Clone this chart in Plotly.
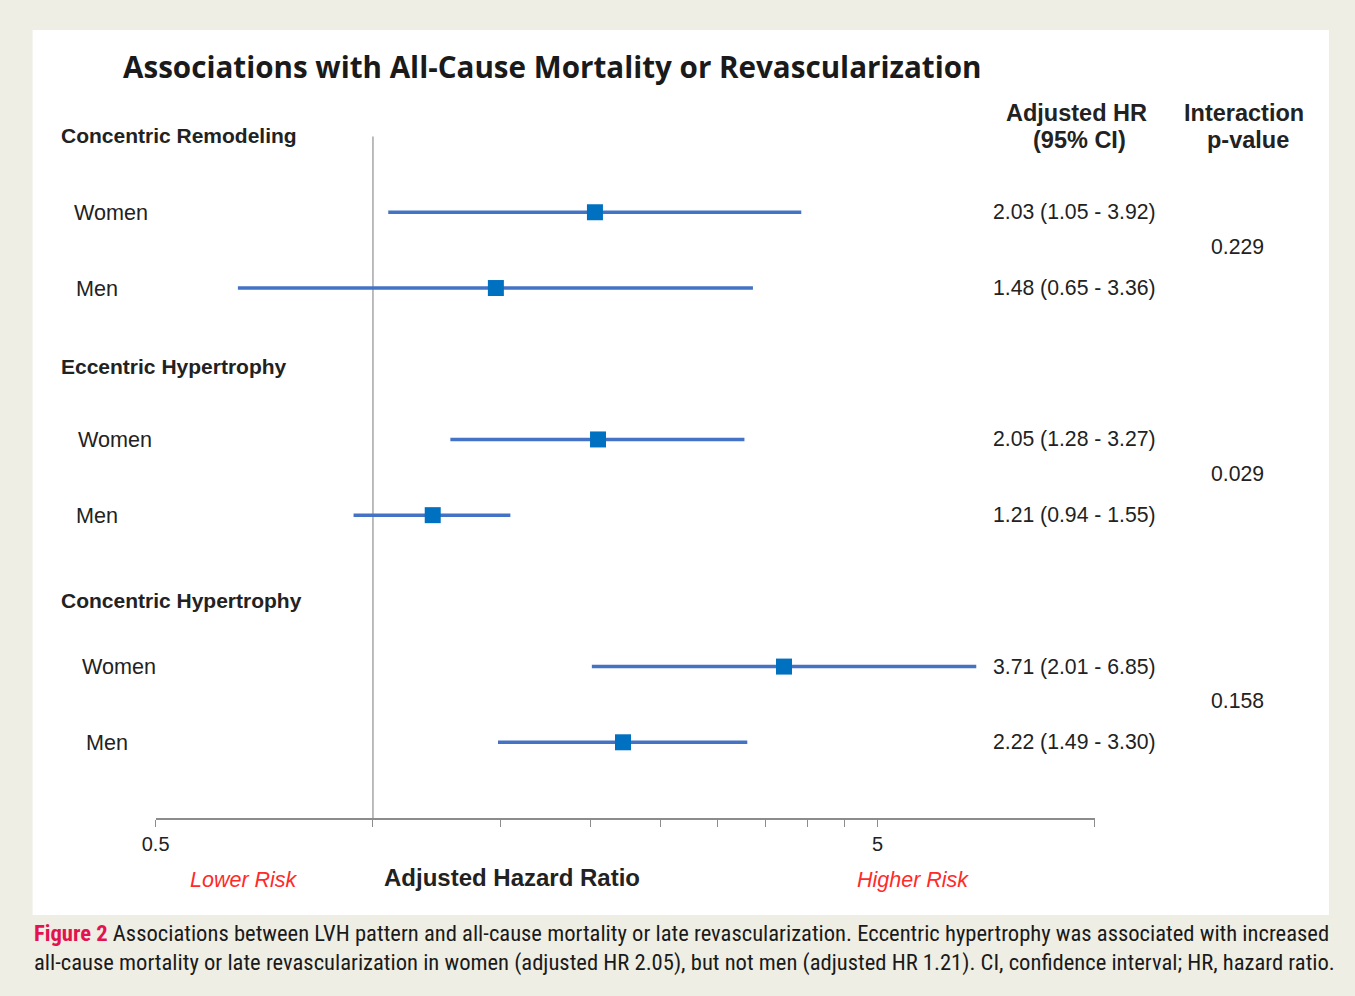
import plotly.graph_objects as go

groups = ["Concentric Remodeling", "Eccentric Hypertrophy", "Concentric Hypertrophy"]
sexes = ["Women", "Men"]
hr = [2.03, 1.48, 2.05, 1.21, 3.71, 2.22]
lo = [1.05, 0.65, 1.28, 0.94, 2.01, 1.49]
hi = [3.92, 3.36, 3.27, 1.55, 6.85, 3.30]
pvals = ["0.229", "0.029", "0.158"]
tick_vals = [0.5, 1, 1.5, 2, 2.5, 3, 3.5, 4, 4.5, 5, 10]
tick_text = ["0.5", "", "", "", "", "", "", "", "", "5", ""]

W, H = 1355, 996
BG = "#efeee4"
BLUE_LINE = "#4472c4"
BLUE_MARK = "#0070c0"
ARIAL = "Liberation Sans, Arial, sans-serif"

# horizontal placement helper (page pixels -> paper fraction), with a small
# correction for the horizontal offset/scale seen in the rendered page
OFF, SC = 13.4, 0.9894
def PX(x):
    return ((x - OFF) / SC) / W

row_y = []
head_y = []
for g in range(3):
    head_y.append(g * 3 - 1 + (0.1 if g == 2 else 0))
    row_y += [g * 3, g * 3 + 1]

labels = [s for _ in groups for s in sexes]
label_x = [74, 76, 78, 76, 82, 86]

fig = go.Figure()
fig.add_trace(go.Scatter(
    x=hr, y=row_y, mode="markers",
    marker=dict(symbol="square", size=16, color=BLUE_MARK),
    error_x=dict(type="data", symmetric=False,
                 array=[h - m for h, m in zip(hi, hr)],
                 arrayminus=[m - l for m, l in zip(hr, lo)],
                 color=BLUE_LINE, thickness=3.5, width=0),
    showlegend=False, hoverinfo="skip"))

x_dom = [PX(155), PX(1094)]
y_dom = [1 - 818 / H, 1 - 98.75 / H]

fig.update_layout(
    width=W, height=H, margin=dict(l=0, r=0, t=0, b=0),
    paper_bgcolor=BG, plot_bgcolor="rgba(0,0,0,0)",
    xaxis=dict(type="log", range=[-0.30103, 1.0], domain=x_dom,
               tickvals=tick_vals, ticktext=tick_text, ticks="outside",
               ticklen=7, tickcolor="#8c8c8c", tickwidth=1.2,
               showline=True, linecolor="#8c8c8c", linewidth=1.5,
               showgrid=False, zeroline=False,
               tickfont=dict(family=ARIAL, size=20, color="#222")),
    yaxis=dict(range=[8, -1.5], domain=y_dom, visible=False),
)

shapes = [
    dict(type="rect", xref="paper", yref="paper", x0=PX(32), x1=PX(1328),
         y0=1 - 915 / H, y1=1 - 30 / H, fillcolor="white", line=dict(width=0),
         layer="below"),
    dict(type="line", xref="x", yref="y", x0=1, x1=1, y0=-1, y1=8,
         line=dict(color="#a6a6a6", width=1.5), layer="below"),
]
fig.update_layout(shapes=shapes)

ann = []
def A(text, x, y, yref="paper", size=20, color="#222", bold=False, xanchor="left",
      family=ARIAL, italic=False, yanchor="middle"):
    t = f"<b>{text}</b>" if bold else text
    if italic:
        t = f"<i>{t}</i>"
    ann.append(dict(text=t, x=PX(x), xref="paper",
                    y=(1 - y / H) if yref == "paper" else y, yref=yref,
                    showarrow=False, xanchor=xanchor, yanchor=yanchor,
                    font=dict(family=family, size=size, color=color)))

A("Associations with All-Cause Mortality or Revascularization", 120, 67, size=29.6,
  bold=True, family="Open Sans, sans-serif", color="#1a1a1a")
for g, name in enumerate(groups):
    A(name, 58, head_y[g] - 0.02 * (g == 0) + 0.03 * (g > 0), yref="y", size=21, bold=True)
for i, lab in enumerate(labels):
    A(lab, label_x[i] - 3, row_y[i], yref="y", size=21.6)
    A(f"{hr[i]:.2f} ({lo[i]:.2f} - {hi[i]:.2f})", 1157, row_y[i], yref="y",
      size=21.2, xanchor="right")
for g, p in enumerate(pvals):
    A(p, 1237, (row_y[2 * g] + row_y[2 * g + 1]) / 2 - 0.05, yref="y",
      size=21.2, xanchor="center")
A("Adjusted HR", 1076, 113, size=23.5, bold=True, xanchor="center")
A("(95% CI)", 1079, 140, size=23.5, bold=True, xanchor="center")
A("Interaction", 1243, 113, size=23.5, bold=True, xanchor="center")
A("p-value", 1247, 140, size=23.5, bold=True, xanchor="center")
A("Lower Risk", 243, 880, size=21.5, italic=True, color="#ff2a2a", xanchor="center")
A("Higher Risk", 912, 880, size=21.5, italic=True, color="#ff2a2a", xanchor="center")
A("Adjusted Hazard Ratio", 511, 877, size=24, bold=True, xanchor="center")

CAP = "Liberation Sans Narrow, Roboto Condensed, Open Sans, sans-serif"
A("<span style='color:#e2134f'><b>Figure 2</b></span> Associations between LVH pattern and "
  "all-cause mortality or late revascularization. Eccentric hypertrophy was associated with increased",
  31, 933, size=22.6, family=CAP, color="#1a1a1a")
A("all-cause mortality or late revascularization in women (adjusted HR 2.05), but not men "
  "(adjusted HR 1.21). CI, confidence interval; HR, hazard ratio.",
  31, 962, size=22.6, family=CAP, color="#1a1a1a")

fig.update_layout(annotations=ann)
fig.write_html("out.html", config={"displayModeBar": False})

with open("out.html", "r", encoding="utf-8") as f:
    html = f.read()
html = html.replace("<head>", "<head><style>html,body{margin:0;padding:0;overflow:hidden;}</style>", 1)
with open("out.html", "w", encoding="utf-8") as f:
    f.write(html)
